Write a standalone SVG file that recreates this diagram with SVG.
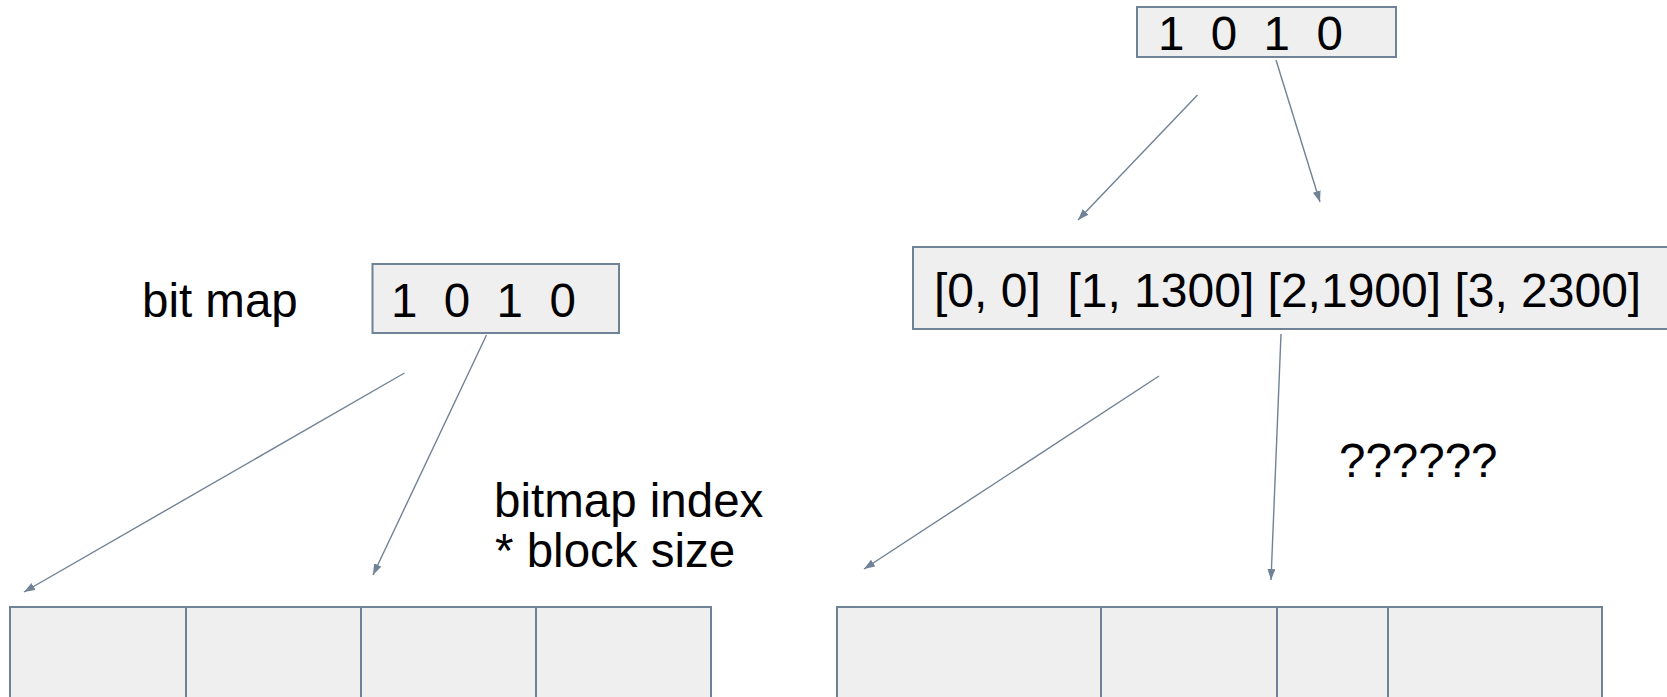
<svg xmlns="http://www.w3.org/2000/svg" width="1667" height="697" viewBox="0 0 1667 697">
  <style>
    .box { fill: #efefef; stroke: #708296; stroke-width: 2; }
    .lbl { font-family: "Liberation Sans", Arial, sans-serif; font-size: 47.5px; fill: #000; white-space: pre; }
    .arrow { stroke: #708296; stroke-width: 1.4; fill: none; marker-end: url(#head); }
  </style>
  <defs>
    <marker id="head" markerUnits="userSpaceOnUse" markerWidth="12" markerHeight="9" refX="11" refY="4" orient="auto">
      <path d="M0,0 L11,4 L0,8 z" fill="#708296"/>
    </marker>
  </defs>

  <rect width="1667" height="697" fill="#ffffff"/>

  <!-- left side: bitmap addressing fixed-size blocks -->
  <g id="bitmap-label">
    <text class="lbl" x="142" y="317">bit map</text>
  </g>
  <g id="bitmap-left">
    <rect class="box" x="372.5" y="264" width="246.5" height="69"/>
    <text class="lbl" x="391" y="317" xml:space="preserve">1  0  1  0</text>
  </g>
  <g id="offset-note">
    <text class="lbl" x="494" y="517">bitmap index</text>
    <text class="lbl" x="495" y="567">* block size</text>
  </g>
  <g id="fixed-blocks">
    <rect class="box" x="10" y="607" width="176" height="100"/>
    <rect class="box" x="186" y="607" width="175" height="100"/>
    <rect class="box" x="361" y="607" width="175" height="100"/>
    <rect class="box" x="536" y="607" width="175" height="100"/>
  </g>

  <!-- right side: bitmap plus offset table addressing variable-size blocks -->
  <g id="bitmap-right">
    <rect class="box" x="1137" y="7" width="259" height="50"/>
    <text class="lbl" x="1158" y="50" xml:space="preserve">1  0  1  0</text>
  </g>
  <g id="offset-table">
    <rect class="box" x="913" y="247" width="760" height="82"/>
    <text class="lbl" x="934" y="307" style="font-size:48px" xml:space="preserve">[0, 0]  [1, 1300] [2,1900] [3, 2300]</text>
  </g>
  <g id="unknown-note">
    <text class="lbl" x="1339" y="477">??????</text>
  </g>
  <g id="variable-blocks">
    <rect class="box" x="837" y="607" width="264" height="100"/>
    <rect class="box" x="1101" y="607" width="176" height="100"/>
    <rect class="box" x="1277" y="607" width="111" height="100"/>
    <rect class="box" x="1388" y="607" width="214" height="100"/>
  </g>

  <g id="connectors">
    <line class="arrow" x1="404.5" y1="373" x2="24" y2="592"/>
    <line class="arrow" x1="486.5" y1="335" x2="373" y2="575"/>
    <line class="arrow" x1="1197.5" y1="95" x2="1078" y2="220"/>
    <line class="arrow" x1="1276" y1="60" x2="1320" y2="202"/>
    <line class="arrow" x1="1159" y1="376" x2="864" y2="569"/>
    <line class="arrow" x1="1281" y1="334" x2="1271" y2="580"/>
  </g>
</svg>
